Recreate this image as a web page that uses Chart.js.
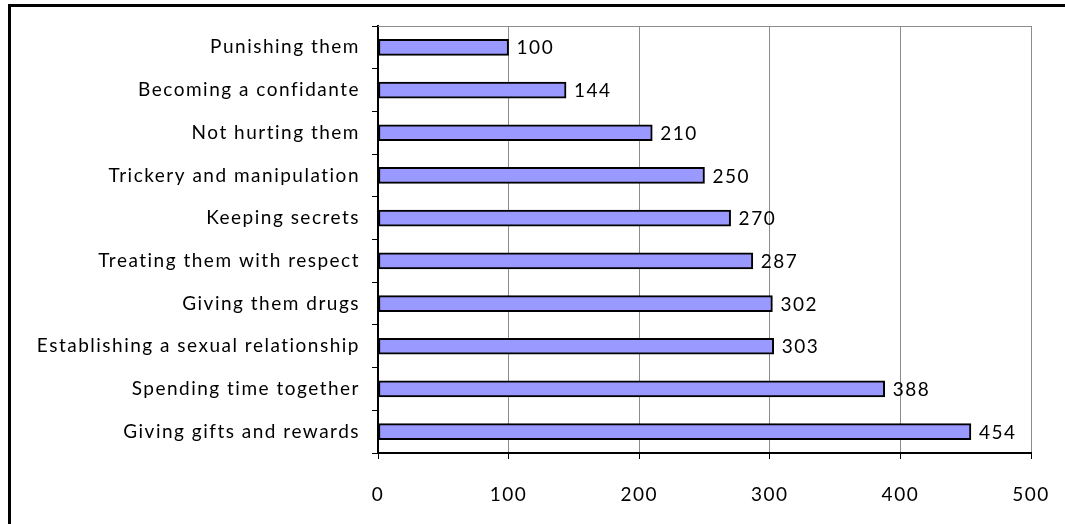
<!DOCTYPE html>
<html>
<head>
<meta charset="utf-8">
<script src="https://cdn.jsdelivr.net/npm/chart.js@4/dist/chart.umd.min.js"></script>
<style>
  html, body { margin: 0; padding: 0; background: #fff; }
  #wrap { position: relative; width: 1065px; height: 524px; }
</style>
</head>
<body>
<div id="wrap"><canvas id="c" width="1065" height="524"></canvas></div>
<script>
// Grooming methods and how often each was reported
const categories = [
  'Punishing them',
  'Becoming a confidante',
  'Not hurting them',
  'Trickery and manipulation',
  'Keeping secrets',
  'Treating them with respect',
  'Giving them drugs',
  'Establishing a sexual relationship',
  'Spending time together',
  'Giving gifts and rewards'
];
const counts = [100, 144, 210, 250, 270, 287, 302, 303, 388, 454];
const xTicks = [0, 100, 200, 300, 400, 500];

const FONT = 'Lato, "DejaVu Sans", sans-serif';
const FONT_SIZE = 19;
const SPACING = '1.5px';

// Letter spacing for all text drawn on the canvas
const spacingPlugin = {
  id: 'spacing',
  beforeUpdate(chart) { chart.ctx.letterSpacing = SPACING; },
  beforeLayout(chart) { chart.ctx.letterSpacing = SPACING; },
  beforeDraw(chart) { chart.ctx.letterSpacing = SPACING; }
};

// Outer frame (left and top edges) and the grey top edge of the plot area
const framePlugin = {
  id: 'frame',
  beforeDraw(chart) {
    const ctx = chart.ctx;
    ctx.save();
    ctx.fillStyle = '#fff';
    ctx.fillRect(0, 0, chart.width, chart.height);
    ctx.strokeStyle = '#000';
    ctx.lineWidth = 3;
    ctx.beginPath();
    ctx.moveTo(9.5, chart.height);
    ctx.lineTo(9.5, 5.5);
    ctx.lineTo(chart.width, 5.5);
    ctx.stroke();
    ctx.restore();
  },
  beforeDatasetsDraw(chart) {
    const a = chart.chartArea;
    const ctx = chart.ctx;
    ctx.save();
    ctx.strokeStyle = '#8c8c8c';
    ctx.lineWidth = 1;
    ctx.beginPath();
    ctx.moveTo(a.left, a.top + 0.5);
    ctx.lineTo(a.right + 1, a.top + 0.5);
    ctx.stroke();
    ctx.restore();
  }
};

// Value labels at the end of each bar
const valueLabels = {
  id: 'valueLabels',
  afterDatasetsDraw(chart) {
    const ctx = chart.ctx;
    const meta = chart.getDatasetMeta(0);
    ctx.save();
    ctx.letterSpacing = SPACING;
    ctx.font = FONT_SIZE + 'px ' + FONT;
    ctx.fillStyle = '#000';
    ctx.textAlign = 'left';
    ctx.textBaseline = 'middle';
    meta.data.forEach((bar, i) => {
      ctx.fillText(String(chart.data.datasets[0].data[i]), bar.x + 8, bar.y + 1);
    });
    ctx.restore();
  }
};

new Chart(document.getElementById('c'), {
  type: 'bar',
  data: {
    labels: categories,
    datasets: [{
      data: counts,
      backgroundColor: '#9999ff',
      borderColor: '#000',
      borderWidth: 2,
      borderSkipped: false,
      barThickness: 16
    }]
  },
  options: {
    indexAxis: 'y',
    responsive: false,
    animation: false,
    devicePixelRatio: 1,
    layout: { padding: { top: 26, right: 34, bottom: 0, left: 0 } },
    plugins: {
      legend: { display: false },
      tooltip: { enabled: false }
    },
    scales: {
      x: {
        min: 0,
        max: 500,
        afterBuildTicks(scale) { scale.ticks = xTicks.map(v => ({ value: v })); },
        afterFit(scale) {
          scale.height = 71;
          scale.paddingLeft = 0;
          scale.paddingRight = 0;
        },
        grid: {
          color: '#8c8c8c',
          lineWidth: 1,
          tickColor: '#000',
          tickLength: 6,
          drawTicks: true
        },
        border: { color: '#000', width: 2 },
        ticks: {
          color: '#000',
          padding: 24,
          font: { family: FONT, size: FONT_SIZE }
        }
      },
      y: {
        afterFit(scale) {
          scale.width = 378;
          scale.paddingTop = 0;
          scale.paddingBottom = 0;
        },
        grid: {
          offset: true,
          drawOnChartArea: false,
          tickColor: '#000',
          tickLength: 6
        },
        border: { color: '#000', width: 2 },
        ticks: {
          color: '#000',
          padding: 12,
          autoSkip: false,
          font: { family: FONT, size: FONT_SIZE }
        }
      }
    }
  },
  plugins: [spacingPlugin, framePlugin, valueLabels]
});
</script>
</body>
</html>
